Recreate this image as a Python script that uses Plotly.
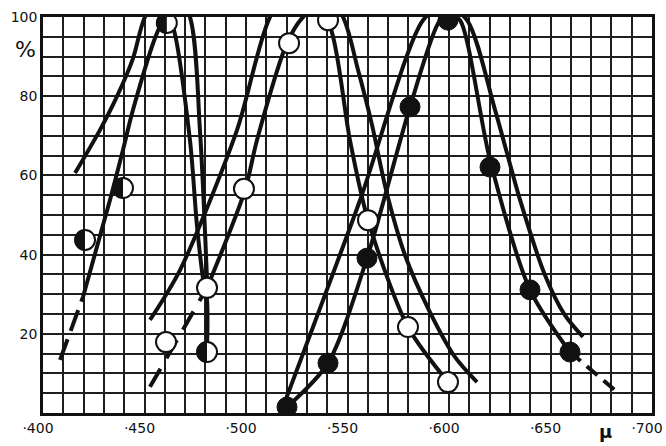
import plotly.graph_objects as go

# ---- data ----
x_ticks = [400, 450, 500, 550, 600, 650, 700]
x_ticktext = ["·400", "·450", "·500", "·550", "·600", "·650", "·700"]
y_ticks = [20, 40, 60, 80, 100]
y_ticktext = ["20", "40", "60", "80", "100"]

curveA_x = [415.8, 428.1, 436.5, 444.3, 450.2, 462.0, 472.4, 477.3, 480.8]
curveA_y = [60.6, 71.5, 80.0, 89.5, 100.0, 109.0, 100.0, 71.5, 33.6]

half_dash_x = [408.4, 419.7]
half_dash_y = [13.4, 29.3]
half_curve_x = [419.7, 433.0, 439.4, 444.3, 456.2, 460.6, 464.0, 472.4, 475.9, 479.3, 480.8, 480.8]
half_curve_y = [29.3, 53.8, 66.4, 76.5, 96.0, 100.0, 97.5, 68.9, 47.0, 32.3, 28.5, 15.4]

curveB_x = [452.7, 467.5, 495.6, 511.8, 530.0, 547.8, 555.2, 562.1, 569.0, 578.3, 590.6, 603.0, 613.8]
curveB_y = [23.5, 36.1, 71.5, 100.0, 113.0, 100.0, 86.6, 72.7, 56.3, 39.9, 25.5, 14.1, 7.8]

open_dash_x = [452.7, 480.8]
open_dash_y = [6.6, 31.6]
open_curve_x = [480.8, 499.5, 505.4, 520.2, 528.1, 534.0, 541.4, 551.2, 560.1, 579.8, 599.5]
open_curve_y = [31.6, 56.3, 68.9, 93.4, 100.0, 102.0, 97.5, 68.9, 48.7, 21.7, 7.8]

curveD_x = [518.2, 556.2, 587.2, 598.0, 608.9, 622.7, 635.0, 647.3, 657.1, 666.0]
curveD_y = [1.5, 53.8, 99.2, 103.0, 99.2, 76.5, 53.8, 34.8, 24.7, 19.2]

filled_curve_x = [520.2, 540.4, 559.6, 580.8, 595.6, 600.5, 605.4, 620.2, 639.9, 659.6]
filled_curve_y = [1.5, 12.6, 39.1, 77.3, 99.2, 100.5, 99.2, 63.9, 31.1, 15.4]
filled_dash_x = [659.6, 682.8]
filled_dash_y = [15.4, 5.3]

open_pts_x = [460.6, 480.8, 499.0, 521.2, 540.4, 560.1, 579.8, 599.5]
open_pts_y = [17.9, 31.6, 56.6, 93.4, 99.2, 48.7, 21.7, 7.8]

half_pts_x = [420.7, 439.4, 461.0, 480.8]
half_pts_y = [43.7, 56.8, 98.5, 15.4]

filled_pts_x = [520.2, 540.4, 559.6, 580.8, 599.5, 620.2, 639.9, 659.6]
filled_pts_y = [1.5, 12.6, 39.1, 77.3, 99.2, 62.1, 31.1, 15.4]

# ---- figure ----
LW = 4
INK = "#111111"
fig = go.Figure()

def line(x, y, dash="solid"):
    fig.add_trace(go.Scatter(x=x, y=y, mode="lines", showlegend=False,
                             line=dict(color=INK, width=LW, dash=dash, shape="spline", smoothing=0.8),
                             hoverinfo="skip"))

line(curveA_x, curveA_y)
line(half_dash_x, half_dash_y, dash="22px,9px")
line(half_curve_x, half_curve_y)
line(curveB_x, curveB_y)
line(open_dash_x, open_dash_y, dash="21px,12px")
line(open_curve_x, open_curve_y)
line(curveD_x, curveD_y)
line(filled_curve_x, filled_curve_y)
line(filled_dash_x, filled_dash_y, dash="14px,8px")

MS = 20
fig.add_trace(go.Scatter(x=open_pts_x, y=open_pts_y, mode="markers", showlegend=False,
                         marker=dict(size=MS, color="white", line=dict(color=INK, width=2))))
fig.add_trace(go.Scatter(x=half_pts_x, y=half_pts_y, mode="markers", showlegend=False,
                         marker=dict(size=MS, color="white", line=dict(color=INK, width=2))))
fig.add_trace(go.Scatter(x=filled_pts_x, y=filled_pts_y, mode="markers", showlegend=False,
                         marker=dict(size=MS, color=INK, line=dict(color=INK, width=1))))

# left-half black fill for the half-filled markers
r = MS / 2
k = 0.5523 * r
half_path = (f"M 0,{r} C {-k},{r} {-r},{k} {-r},0 "
             f"C {-r},{-k} {-k},{-r} 0,{-r} Z")
for hx, hy in zip(half_pts_x, half_pts_y):
    fig.add_shape(type="path", xref="x", yref="y", xsizemode="pixel", ysizemode="pixel",
                  xanchor=hx, yanchor=hy, path=half_path,
                  fillcolor=INK, line=dict(color=INK, width=0), layer="above")

grid = dict(showgrid=True, gridcolor="#1e1e1e", gridwidth=1.7)
fig.update_xaxes(range=[400, 700], tickmode="array", tickvals=x_ticks, ticktext=x_ticktext,
                 showline=True, linecolor=INK, linewidth=2.5, mirror=True, ticks="",
                 zeroline=False, automargin=False, ticklabeloverflow="allow", ticklabelshift=-5,
                 minor=dict(dtick=10, tick0=400, **grid), **grid,
                 tickfont=dict(family="DejaVu Sans", size=14, color=INK))
fig.update_yaxes(range=[0, 100], tickmode="array", tickvals=y_ticks, ticktext=y_ticktext,
                 showline=True, linecolor=INK, linewidth=2.5, mirror=True, ticks="",
                 zeroline=False, automargin=False,
                 minor=dict(dtick=5, tick0=0, **grid), **grid,
                 tickfont=dict(family="DejaVu Sans", size=14, color=INK))

fig.add_annotation(text="%", xref="paper", yref="paper", x=-0.028, y=0.917,
                   xanchor="center", yanchor="middle",
                   showarrow=False, font=dict(family="DejaVu Sans", size=22, color=INK))
fig.add_annotation(text="<b>μ</b>", xref="paper", yref="paper", x=0.924, y=-0.046,
                   xanchor="center", yanchor="middle",
                   showarrow=False, font=dict(family="DejaVu Sans", size=18, color=INK))

fig.update_layout(width=666, height=446, margin=dict(l=43, r=14, t=17, b=33),
                  paper_bgcolor="white", plot_bgcolor="white")

fig.write_html("out.html", config={"displayModeBar": False},
               post_script="document.body.style.margin='0px';document.body.style.overflow='hidden';")
